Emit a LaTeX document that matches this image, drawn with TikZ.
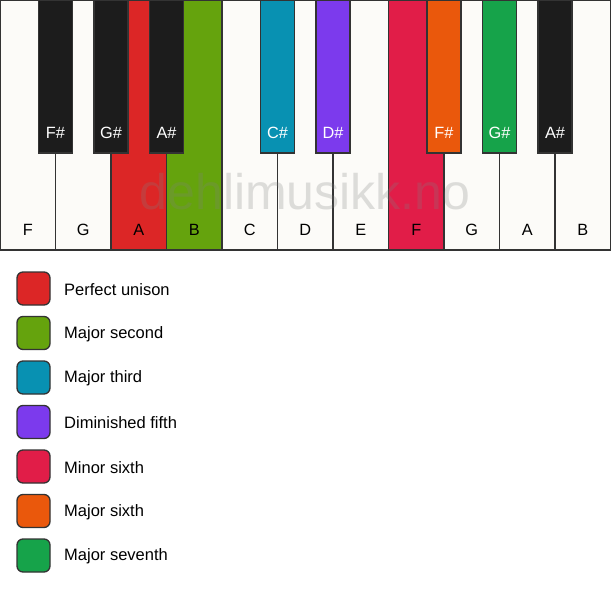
\documentclass[tikz,border=0pt]{standalone}
\usepackage{fontspec}
\setmainfont{Liberation Sans}
\definecolor{keywhite}{HTML}{FCFBF8}
\definecolor{keyblack}{HTML}{1C1C1C}
\definecolor{keyline}{HTML}{333333}
\definecolor{cunison}{HTML}{DC2626}
\definecolor{csecond}{HTML}{65A30D}
\definecolor{cthird}{HTML}{0891B2}
\definecolor{cfifth}{HTML}{7C3AED}
\definecolor{cminsix}{HTML}{E11D48}
\definecolor{cmajsix}{HTML}{EA580C}
\definecolor{cseventh}{HTML}{16A34A}
\tikzset{
  wkey/.style={draw=keyline, line width=1.3pt, minimum width=55.5pt, minimum height=250pt, inner sep=0pt, outer sep=0pt},
  bkey/.style={draw=keyline, line width=1.3pt, minimum width=34pt, minimum height=153pt, inner sep=0pt, outer sep=0pt},
  wlab/.style={font=\fontsize{16.3}{19}\selectfont, text=black, inner sep=0pt},
  blab/.style={font=\fontsize{16.3}{19}\selectfont, text=white, inner sep=0pt},
  swatch/.style={draw=keyline, line width=1.3pt, rounded corners=6pt, minimum width=33pt, minimum height=33pt, inner sep=0pt},
  legtext/.style={font=\fontsize{16.5}{19}\selectfont, anchor=west, inner sep=0pt},
  watermark/.style={font=\fontsize{50}{60}\selectfont, text=black!50, text opacity=0.25, inner sep=0pt}
}
\begin{document}
\begin{tikzpicture}[x=1pt,y=-1pt]
\useasboundingbox (0,0) rectangle (611,594);
% white keys
\foreach \i/\n/\c in {1/F/keywhite,2/G/keywhite,3/A/cunison,4/B/csecond,5/C/keywhite,6/D/keywhite,7/E/keywhite,8/F/cminsix,9/G/keywhite,10/A/keywhite,11/B/keywhite}{
  \node[wkey, fill=\c] (w\i) at ({55.5*\i-27.75},125) {};
  \node[wlab] (lw\i) at ({55.5*\i-27.75},230) {\n};
}
% watermark
\node[watermark] (wm) at (305,192) {dehlimusikk.no};
% black keys
\foreach \i/\k/\n/\c in {1/1/F\#/keyblack,2/2/G\#/keyblack,3/3/A\#/keyblack,4/5/C\#/cthird,5/6/D\#/cfifth,6/8/F\#/cmajsix,7/9/G\#/cseventh,8/10/A\#/keyblack}{
  \node[bkey, fill=\c] (b\i) at ({55.5*\k},76.5) {};
  \node[blab] (lb\i) at ({55.5*\k},132.5) {\n};
}
% legend
\foreach \i/\c/\t in {0/cunison/Perfect unison,1/csecond/Major second,2/cthird/Major third,3/cfifth/Diminished fifth,4/cminsix/Minor sixth,5/cmajsix/Major sixth,6/cseventh/Major seventh}{
  \node[swatch, fill=\c] (s\i) at (33.5,{288.5+44.5*\i}) {};
  \node[legtext] (t\i) at (64,{289.5+44.5*\i}) {\t};
}
\end{tikzpicture}
\end{document}
